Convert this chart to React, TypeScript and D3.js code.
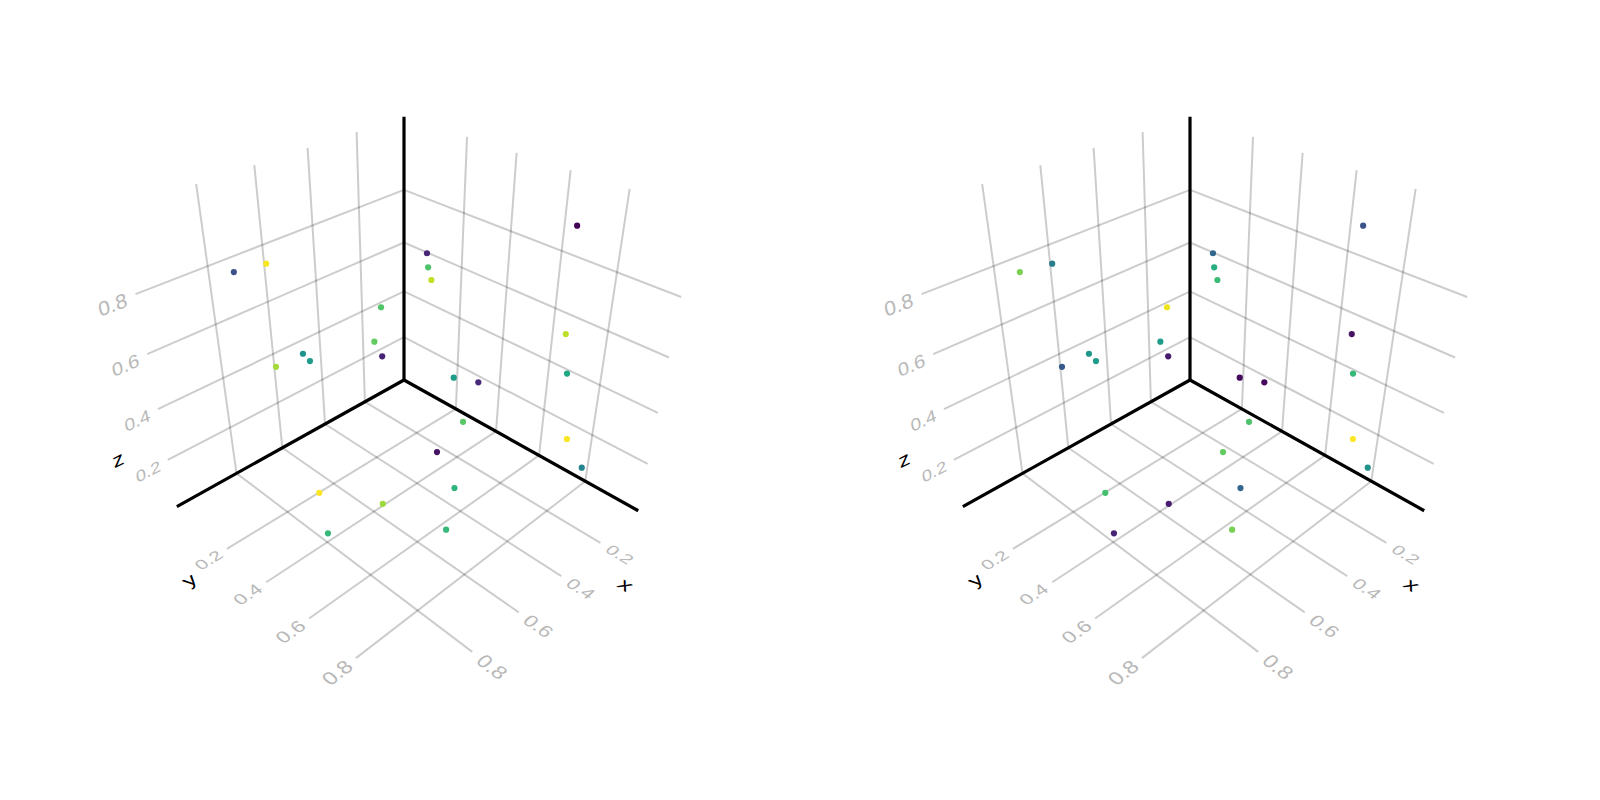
import React from "react";
import * as d3 from "d3";

// values
const ticks = [0.2, 0.4, 0.6, 0.8];
const xs = [0.886, 0.796, 0.827, 0.777, 0.759, 0.833, 0.889, 0.615, 0.539, 0.599, 0.78, 0.331, 0.351, 0.374, 0.586, 0.692, 0.459, 0.597, 0.446, 0.416, 0.247, 0.239, 0.22, 0.125, 0.172];
const ys = [0.189, 0.211, 0.254, 0.318, 0.324, 0.42, 0.52, 0.437, 0.385, 0.451, 0.638, 0.363, 0.388, 0.424, 0.661, 0.802, 0.601, 0.743, 0.633, 0.658, 0.822, 0.837, 0.853, 0.735, 0.889];
const zs = [0.91, 0.91, 0.61, 0.66, 0.63, 0.24, 0.18, 0.68, 0.74, 0.63, 0.3, 0.83, 0.8, 0.78, 0.39, 0.25, 0.56, 0.31, 0.41, 0.55, 0.71, 0.58, 0.34, 0.97, 0.22];
const colorLeft = [0.25, 0.99, 0.86, 0.5, 0.55, 1, 0.67, 0.76, 0.73, 0.1, 0.85, 0.1, 0.72, 0.91, 0.05, 0.67, 0.55, 0.65, 0.74, 0.12, 0.9, 0.6, 0.99, 0, 0.45];
const colorRight = [0.8, 0.42, 0.28, 0.53, 0.55, 0.7, 0.1, 0.55, 0.97, 0.07, 0.08, 0.33, 0.62, 0.68, 0.76, 0.79, 0.03, 0.33, 0.72, 0.03, 0.05, 0.67, 1, 0.25, 0.5];

const xDomain = [-0.01, 1.04];
const yDomain = [-0.08, 1.012];
const zDomain = [0, 1.056];

const sx = d3.scaleLinear().domain(xDomain).range([0, 1.05]);
const sy = d3.scaleLinear().domain(yDomain).range([0, 1.092]);
const sz = d3.scaleLinear().domain(zDomain).range([0, 1.056]);
const color = d3.scaleSequential(d3.interpolateViridis).domain([0, 1]);

// perspective camera, fitted to the grid
function project(x: number, y: number, z: number): [number, number] {
  const s = sx(x), t = sy(y), u = sz(z);
  const w = 1 - 0.16 * (s + t + u);
  return [
    404 + (-180 * s + 177 * t) / w,
    380 + (100.3 * s + 98.8 * t - 207.2 * u) / w,
  ];
}

const line = d3.line();
const seg = (a: number[], b: number[]) =>
  line([project(a[0], a[1], a[2]), project(b[0], b[1], b[2])]) as string;

const [x0, x1] = xDomain;
const [y0, y1] = yDomain;
const [z0, z1] = zDomain;

const gridSegs = [
  ...ticks.flatMap(v => [
    // x = v
    seg([v, y0, z0], [v, y1, z0]),
    seg([v, y0, z0], [v, y0, z1]),
    // y = v
    seg([x0, v, z0], [x1, v, z0]),
    seg([x0, v, z0], [x0, v, z1]),
    // z = v
    seg([x0, y0, v], [x1, y0, v]),
    seg([x0, y0, v], [x0, y1, v]),
  ]),
];

const axisSegs = [
  seg([x0, y0, z0], [x1, y0, z0]),
  seg([x0, y0, z0], [x0, y1, z0]),
  seg([x0, y0, z0], [x0, y0, z1]),
];

// text lying in the plane of the grid: base = baseline direction, up = letter direction
function planeText(at: number[], base: number[], up: number[], em: number) {
  const e = 0.01;
  const p = project(at[0], at[1], at[2]);
  const pb = project(at[0] + base[0] * e, at[1] + base[1] * e, at[2] + base[2] * e);
  const pu = project(at[0] + up[0] * e, at[1] + up[1] * e, at[2] + up[2] * e);
  const k = (em / e) / 10;
  return `matrix(${(pb[0] - p[0]) * k},${(pb[1] - p[1]) * k},${(p[0] - pu[0]) * k},${(p[1] - pu[1]) * k},${p[0]},${p[1]})`;
}

const tickEm = 0.062;
const titleEm = 0.072;
const tickFill = "#b8b8b8";

const labels = [
  ...ticks.map(v => ({ text: String(v), t: planeText([v, y1 + 0.072, z0], [0, 1, 0], [-1, 0, 0], tickEm), fill: tickFill })),
  ...ticks.map(v => ({ text: String(v), t: planeText([x1 + 0.068, v, z0], [-1, 0, 0], [0, -1, 0], tickEm), fill: tickFill })),
  ...ticks.map(v => ({ text: String(v), t: planeText([x1 + 0.072, y0, v - 0.005], [-1, 0, 0], [0, 0, 1], tickEm), fill: tickFill })),
  { text: "x", t: planeText([0.293, 1.17, z0], [0, 1, 0], [-1, 0, 0], titleEm), fill: "#000" },
  { text: "y", t: planeText([1.197, 0.228, z0], [-1, 0, 0], [0, -1, 0], titleEm), fill: "#000" },
  { text: "z", t: planeText([1.197, y0, 0.293], [-1, 0, 0], [0, 0, 1], titleEm), fill: "#000" },
];

function Panel({ dx, values }: { dx: number; values: number[] }) {
  return (
    <g transform={`translate(${dx},0)`}>
      {gridSegs.map((d, i) => (
        <path key={i} d={d} fill="none" stroke="#000" strokeOpacity={0.2} strokeWidth={2} />
      ))}
      {axisSegs.map((d, i) => (
        <path key={i} d={d} fill="none" stroke="#000" strokeWidth={3.2} />
      ))}
      {values.map((v, i) => {
        const [px, py] = project(xs[i], ys[i], zs[i]);
        return <circle key={i} cx={px} cy={py} r={3.1} fill={color(v)} />;
      })}
      {labels.map((l, i) => (
        <text key={i} transform={l.t} fontSize={10} dy="0.35em" textAnchor="middle" fill={l.fill}
          fontFamily="Liberation Sans">{l.text}</text>
      ))}
    </g>
  );
}

export default function App() {
  return (
    <svg width={1600} height={800} style={{ position: "absolute", left: 0, top: 0, background: "#fff" }}>
      <Panel dx={0} values={colorLeft} />
      <Panel dx={786} values={colorRight} />
    </svg>
  );
}
